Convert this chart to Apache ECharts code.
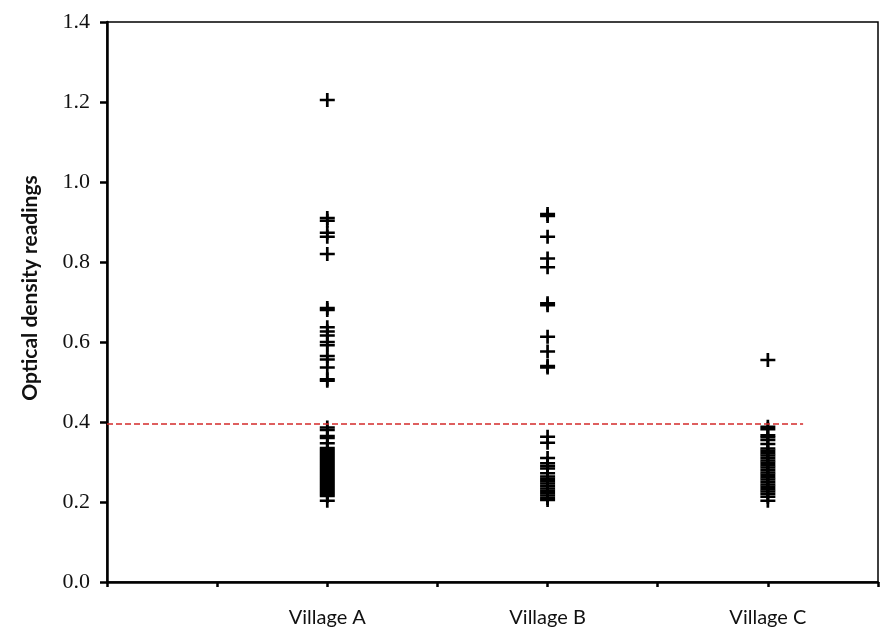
<!DOCTYPE html>
<html>
<head>
<meta charset="utf-8">
<script src="https://cdn.jsdelivr.net/npm/echarts@6/dist/echarts.min.js"></script>
<style>html,body{margin:0;padding:0;background:#fff;}#chart{width:881px;height:632px;}</style>
</head>
<body>
<div id="chart"></div>
<script>
// Category labels placed at x-positions on the horizontal scale
const categories = ['Village A', 'Village B', 'Village C'];
const categoryPositions = [2, 4, 6];
const yTicks = [0.0, 0.2, 0.4, 0.6, 0.8, 1.0, 1.2, 1.4];
const cutoff = 0.395;
const cutoffEnd = 6.32;

const villageA = [1.205, 0.91, 0.903, 0.873, 0.863, 0.82, 0.685, 0.68, 0.637, 0.626, 0.616, 0.60, 0.592,
  0.565, 0.556, 0.536, 0.507, 0.503, 0.386, 0.38, 0.365, 0.36, 0.347, 0.335, 0.33, 0.325, 0.32, 0.315,
  0.31, 0.305, 0.30, 0.295, 0.29, 0.285, 0.28, 0.275, 0.27, 0.265, 0.26, 0.255, 0.25, 0.245, 0.24,
  0.235, 0.23, 0.225, 0.22, 0.215, 0.203];
const villageB = [0.92, 0.915, 0.863, 0.809, 0.787, 0.697, 0.692, 0.613, 0.576, 0.54, 0.536, 0.363, 0.348,
  0.31, 0.297, 0.29, 0.284, 0.272, 0.264, 0.258, 0.252, 0.246, 0.24, 0.234, 0.228, 0.222, 0.216, 0.21, 0.205];
const villageC = [0.555, 0.388, 0.382, 0.367, 0.362, 0.355, 0.345, 0.334, 0.328, 0.322, 0.316, 0.31, 0.304,
  0.298, 0.292, 0.286, 0.28, 0.274, 0.268, 0.262, 0.256, 0.25, 0.244, 0.238, 0.232, 0.226, 0.22, 0.213, 0.203];

const seriesValues = [villageA, villageB, villageC];
const plus = 'path://M8.2,0h3.6v8.2h8.2v3.6h-8.2v8.2h-3.6v-8.2h-8.2v-3.6h8.2z';

const chart = echarts.init(document.getElementById('chart'), null, {renderer: 'canvas'});
const labelMap = {};
categories.forEach((c, i) => { labelMap[categoryPositions[i]] = c; });

const series = seriesValues.map((vals, i) => ({
  type: 'scatter',
  name: categories[i],
  symbol: plus,
  symbolSize: [15, 14],
  itemStyle: {color: '#000', opacity: 1},
  data: vals.map(v => [categoryPositions[i], v]),
  silent: true,
  z: 3
}));
series[0].markLine = {
  silent: true,
  symbol: ['none', 'none'],
  label: {show: false},
  lineStyle: {color: '#d42a2a', type: [6, 3], width: 1.5},
  data: [[{coord: [0, cutoff]}, {coord: [cutoffEnd, cutoff]}]]
};

chart.setOption({
  animation: false,
  backgroundColor: '#fff',
  grid: {left: 107, right: 3, top: 22, bottom: 50, show: true, borderColor: '#000', borderWidth: 1.5},
  xAxis: {
    type: 'value', min: 0, max: 7, interval: 1,
    splitLine: {show: false},
    axisLine: {lineStyle: {color: '#000', width: 2.5}},
    axisTick: {length: 5, lineStyle: {color: '#000', width: 2.5}},
    axisLabel: {
      margin: 26, color: '#111', fontFamily: 'Lato', fontSize: 20,
      formatter: v => labelMap[v] || ''
    }
  },
  yAxis: {
    type: 'value', min: yTicks[0], max: yTicks[yTicks.length - 1], interval: 0.2,
    splitLine: {show: false},
    axisLine: {show: true, lineStyle: {color: '#000', width: 2.5}},
    axisTick: {show: true, length: 7, lineStyle: {color: '#000', width: 2.5}},
    axisLabel: {
      margin: 17, color: '#111', fontFamily: 'Liberation Serif', fontSize: 22,
      formatter: v => v.toFixed(1)
    }
  },
  graphic: [{
    type: 'text',
    x: 30, y: 288,
    rotation: Math.PI / 2,
    style: {
      text: 'Optical density readings',
      font: 'bold 21px Lato',
      fill: '#111',
      align: 'center',
      verticalAlign: 'middle'
    }
  }],
  series: series
});
</script>
</body>
</html>
